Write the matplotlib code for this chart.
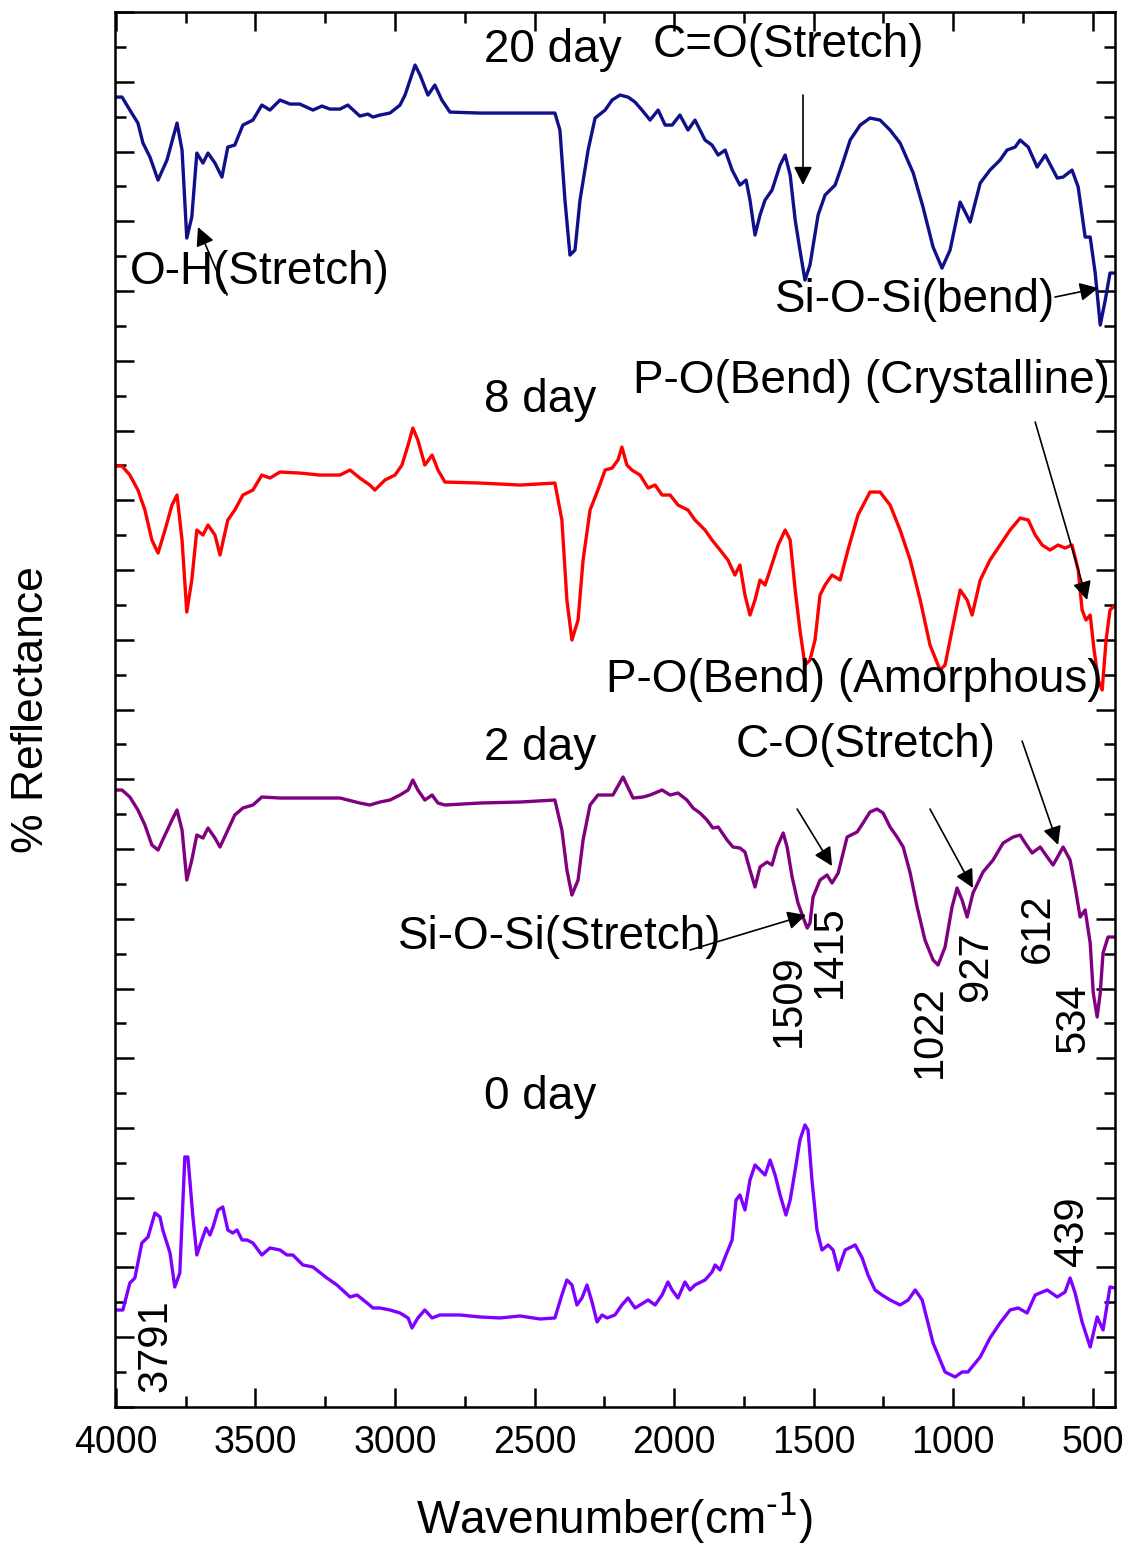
import matplotlib
matplotlib.use('Agg')
import matplotlib.pyplot as plt
from matplotlib.ticker import MultipleLocator

plt.rcParams['font.family'] = ['Liberation Sans', 'DejaVu Sans']

# FTIR spectra, values (stacked, arbitrary units)
wn_20 = [4000, 3978, 3950, 3921, 3903, 3878, 3849, 3817, 3781, 3763, 3746, 3728, 3710, 3688, 3670, 3645,
         3620, 3599, 3574, 3545, 3509, 3477, 3448, 3412, 3376, 3341, 3294, 3262, 3233, 3197, 3169, 3126,
         3097, 3079, 3054, 3018, 2982, 2964, 2946, 2928, 2910, 2882, 2857, 2832, 2803, 2695, 2552, 2427,
         2409, 2391, 2373, 2355, 2337, 2308, 2283, 2247, 2222, 2194, 2165, 2140, 2115, 2086, 2057, 2032,
         2007, 1979, 1950, 1925, 1889, 1864, 1842, 1817, 1792, 1764, 1742, 1728, 1710, 1692, 1674, 1649,
         1620, 1602, 1584, 1566, 1549, 1531, 1513, 1484, 1459, 1423, 1398, 1369, 1333, 1298, 1262, 1226,
         1190, 1143, 1108, 1072, 1040, 1011, 975, 939, 903, 868, 832, 807, 778, 760, 731, 699,
         670, 627, 606, 574, 552, 527, 509, 491, 473, 455, 438, 420]
r_20 = [131.0, 131.0, 129.7, 128.4, 126.4, 125.0, 122.7, 124.7, 128.4, 125.7, 116.9, 119.0, 125.4, 124.4, 125.4, 124.4,
        123.0, 126.0, 126.2, 128.2, 128.7, 130.2, 129.7, 130.7, 130.3, 130.3, 129.7, 130.1, 129.8, 129.8, 130.2, 129.1,
        129.3, 129.0, 129.2, 129.4, 130.2, 131.2, 132.7, 134.2, 133.2, 131.2, 132.2, 130.7, 129.5, 129.4, 129.4, 129.4,
        127.7, 120.7, 115.2, 115.7, 120.7, 125.7, 128.9, 129.7, 130.7, 131.2, 131.0, 130.5, 129.7, 128.7, 129.7, 128.2,
        128.2, 129.2, 127.7, 128.7, 126.7, 126.2, 125.2, 125.7, 123.7, 122.2, 122.7, 120.7, 117.2, 119.2, 120.7, 121.7,
        124.2, 125.2, 123.2, 118.7, 115.7, 112.7, 114.2, 119.2, 121.2, 122.2, 124.2, 126.7, 128.2, 128.9, 128.7, 127.7,
        126.4, 123.4, 120.0, 116.0, 113.9, 115.7, 120.5, 118.5, 122.4, 123.7, 124.7, 125.7, 126.0, 126.7, 126.0, 124.0,
        125.2, 122.9, 123.0, 123.7, 122.0, 117.0, 117.0, 113.4, 108.2, 110.7, 113.4, 113.4]

wn_8 = [4000, 3978, 3950, 3921, 3896, 3871, 3849, 3824, 3799, 3781, 3763, 3746, 3728, 3710, 3688, 3670,
        3645, 3627, 3599, 3574, 3545, 3509, 3477, 3448, 3412, 3341, 3269, 3197, 3161, 3126, 3090, 3072,
        3036, 3000, 2975, 2953, 2936, 2918, 2893, 2867, 2846, 2821, 2695, 2552, 2427, 2402, 2384, 2366,
        2344, 2326, 2301, 2273, 2247, 2222, 2201, 2187, 2169, 2151, 2122, 2093, 2068, 2043, 2014, 1986,
        1950, 1925, 1889, 1864, 1835, 1807, 1782, 1764, 1746, 1728, 1710, 1692, 1674, 1656, 1627, 1602,
        1584, 1566, 1549, 1531, 1513, 1495, 1477, 1459, 1434, 1405, 1377, 1341, 1298, 1262, 1226, 1190,
        1154, 1118, 1083, 1047, 1029, 1004, 975, 950, 932, 903, 868, 832, 796, 760, 731, 706,
        681, 653, 624, 599, 574, 552, 538, 524, 509, 495, 480, 466, 452, 438, 420]
r_8 = [94.1, 94.1, 93.2, 91.7, 89.7, 86.7, 85.4, 87.7, 90.2, 91.2, 86.7, 79.5, 82.7, 87.7, 87.2, 88.2,
       87.2, 85.2, 88.7, 89.7, 91.2, 91.7, 93.2, 92.9, 93.5, 93.4, 93.2, 93.2, 93.7, 92.9, 92.2, 91.7,
       92.7, 93.2, 94.2, 96.2, 97.9, 96.7, 94.2, 95.2, 93.7, 92.5, 92.4, 92.2, 92.4, 88.7, 80.7, 76.7,
       78.7, 84.7, 89.7, 91.7, 93.7, 93.9, 94.7, 96.0, 94.2, 93.7, 93.2, 91.9, 92.2, 91.2, 91.2, 90.2,
       89.7, 88.7, 87.7, 86.7, 85.7, 84.7, 83.2, 84.2, 81.2, 79.2, 80.7, 82.7, 82.2, 83.7, 86.2, 87.7,
       86.7, 81.7, 77.7, 74.2, 74.7, 76.7, 81.2, 82.2, 83.2, 82.7, 85.7, 89.2, 91.5, 91.5, 90.2, 87.7,
       84.7, 80.7, 76.2, 73.7, 74.2, 77.7, 81.7, 80.7, 79.2, 82.7, 84.7, 86.2, 87.7, 88.9, 88.7, 87.2,
       86.2, 85.7, 86.2, 85.9, 86.2, 83.7, 79.7, 78.7, 79.2, 75.7, 72.7, 71.7, 76.7, 79.7, 80.2]

wn_2 = [4000, 3978, 3950, 3921, 3896, 3871, 3849, 3824, 3799, 3781, 3763, 3746, 3728, 3710, 3688, 3670,
        3645, 3627, 3599, 3574, 3545, 3509, 3477, 3412, 3341, 3269, 3197, 3126, 3090, 3054, 3018, 2982,
        2953, 2936, 2918, 2893, 2867, 2846, 2821, 2695, 2552, 2427, 2402, 2384, 2366, 2344, 2326, 2301,
        2273, 2240, 2219, 2183, 2147, 2111, 2086, 2043, 2014, 1986, 1954, 1932, 1907, 1882, 1861, 1842,
        1810, 1789, 1764, 1746, 1728, 1710, 1692, 1667, 1649, 1631, 1609, 1595, 1577, 1556, 1538, 1523,
        1513, 1502, 1477, 1452, 1434, 1412, 1380, 1344, 1323, 1298, 1273, 1251, 1226, 1201, 1179, 1154,
        1129, 1101, 1072, 1054, 1029, 1004, 986, 968, 950, 929, 893, 857, 821, 785, 760, 742,
        717, 688, 663, 642, 606, 581, 563, 545, 527, 509, 498, 484, 473, 463, 445, 420]
r_2 = [61.7, 61.7, 61.0, 59.7, 58.2, 56.2, 55.7, 57.2, 58.7, 59.7, 57.7, 52.7, 54.7, 57.2, 56.9, 57.9,
       56.9, 56.0, 57.7, 59.2, 59.9, 60.2, 61.0, 60.9, 60.9, 60.9, 60.9, 60.4, 60.2, 60.5, 60.7, 61.2,
       61.7, 62.7, 61.7, 60.7, 61.2, 60.4, 60.2, 60.4, 60.5, 60.7, 57.7, 53.7, 51.2, 52.7, 56.7, 60.2,
       61.2, 61.2, 61.2, 63.0, 60.9, 61.0, 61.2, 61.7, 61.2, 61.4, 60.7, 59.9, 59.4, 58.7, 57.9, 58.0,
       56.7, 56.0, 55.9, 55.5, 53.7, 52.0, 54.0, 54.5, 54.2, 56.0, 57.4, 56.0, 53.0, 50.4, 49.0, 47.9,
       48.4, 51.0, 52.7, 53.2, 52.4, 53.4, 57.0, 57.5, 58.4, 59.5, 59.8, 59.4, 58.0, 57.0, 56.0, 53.4,
       50.0, 46.7, 44.7, 44.2, 46.0, 50.0, 51.9, 50.7, 49.0, 51.4, 53.5, 54.7, 56.4, 57.0, 57.2, 56.4,
       55.4, 56.0, 55.0, 54.2, 56.0, 54.7, 52.0, 49.0, 49.7, 46.4, 41.4, 39.0, 41.4, 45.4, 47.0, 47.0]

wn_0 = [4000, 3975, 3950, 3932, 3907, 3885, 3860, 3842, 3832, 3806, 3789, 3771, 3753, 3742, 3724, 3710,
        3692, 3677, 3663, 3652, 3634, 3617, 3599, 3581, 3566, 3548, 3530, 3509, 3477, 3448, 3412, 3387,
        3366, 3330, 3294, 3244, 3208, 3161, 3136, 3100, 3079, 3054, 3018, 2982, 2953, 2939, 2918, 2893,
        2867, 2839, 2767, 2695, 2624, 2552, 2480, 2427, 2402, 2384, 2366, 2348, 2330, 2312, 2294, 2276,
        2258, 2240, 2212, 2187, 2165, 2140, 2122, 2093, 2068, 2043, 2022, 2007, 1986, 1961, 1943, 1925,
        1889, 1864, 1853, 1835, 1814, 1792, 1778, 1764, 1746, 1728, 1710, 1692, 1674, 1656, 1638, 1620,
        1599, 1584, 1566, 1549, 1531, 1520, 1506, 1488, 1470, 1448, 1430, 1412, 1387, 1351, 1326, 1305,
        1280, 1255, 1226, 1190, 1161, 1136, 1111, 1093, 1072, 1029, 993, 968, 947, 903, 868, 832,
        796, 767, 735, 706, 663, 627, 599, 581, 563, 538, 509, 484, 463, 438, 420]
r_0 = [9.7, 9.7, 12.4, 12.9, 16.4, 17.0, 19.4, 19.0, 17.7, 15.4, 12.0, 13.4, 25.0, 25.0, 19.0, 15.2,
       16.7, 17.9, 17.2, 18.0, 19.7, 20.0, 17.7, 17.4, 17.7, 16.7, 16.7, 16.4, 15.2, 15.9, 15.7, 15.2,
       15.2, 14.2, 14.0, 12.9, 12.2, 11.0, 11.2, 10.4, 9.9, 9.9, 9.7, 9.4, 8.9, 7.9, 8.9, 9.7,
       8.9, 9.2, 9.2, 9.0, 8.9, 9.1, 8.8, 8.9, 11.2, 12.7, 12.2, 10.2, 10.9, 12.2, 10.5, 8.5,
       9.2, 8.9, 9.2, 10.2, 10.9, 9.9, 10.2, 10.7, 10.2, 11.2, 12.5, 11.7, 10.9, 12.5, 11.7, 12.2,
       12.7, 13.5, 14.2, 13.7, 15.2, 16.7, 20.7, 21.2, 19.7, 22.7, 24.2, 23.7, 23.2, 24.7, 23.2, 21.2,
       19.2, 20.7, 23.7, 26.7, 28.2, 27.7, 22.7, 17.7, 15.7, 16.2, 15.7, 13.7, 15.7, 16.2, 14.9, 13.2,
       11.7, 11.2, 10.7, 10.2, 10.7, 11.7, 10.7, 8.7, 6.4, 3.5, 3.0, 3.5, 3.5, 5.0, 6.9, 8.4,
       9.7, 9.9, 9.4, 11.2, 11.7, 11.0, 11.5, 12.9, 11.4, 8.5, 6.0, 9.0, 7.7, 12.0, 11.9]

fig = plt.figure(figsize=(11.28, 15.48), dpi=100)
ax = fig.add_axes([0.102, 0.0911, 0.8865, 0.9011])

for wn, r, c in [(wn_20, r_20, '#10108a'), (wn_8, r_8, '#ff0000'),
                 (wn_2, r_2, '#800080'), (wn_0, r_0, '#8000ff')]:
    ax.plot(wn, r, color=c, lw=2.4, solid_joinstyle='round', solid_capstyle='round')

ax.set_xlim(4003, 420)
ax.set_ylim(0, 139.5)
ax.xaxis.set_major_locator(MultipleLocator(500))
ax.xaxis.set_minor_locator(MultipleLocator(250))
ax.yaxis.set_major_locator(MultipleLocator(6.975))
ax.yaxis.set_minor_locator(MultipleLocator(3.4875))
ax.tick_params(which='both', direction='in', top=True, right=True, width=1.8)
ax.tick_params(which='major', length=14)
ax.tick_params(which='minor', length=8)
ax.tick_params(axis='x', labelsize=27, pad=13)
ax.tick_params(axis='y', labelleft=False)
for s in ax.spines.values():
    s.set_linewidth(1.8)

ax.set_xlabel('Wavenumber(cm$^{\\text{-1}}$)', fontsize=33)
ax.xaxis.set_label_coords(0.5, -0.06)
ax.set_ylabel('% Reflectance', fontsize=32)
ax.yaxis.set_label_coords(-0.063, 0.5)

big = 33
for txt, x, y in [('20 day', 2434, 135.7), ('C=O(Stretch)', 1592, 136.2), ('O-H(Stretch)', 3484, 113.5),
                  ('Si-O-Si(bend)', 1136, 110.7), ('8 day', 2480, 100.7),
                  ('P-O(Bend) (Crystalline)', 1294, 102.6), ('P-O(Bend) (Amorphous)', 1355, 72.7),
                  ('2 day', 2480, 65.9), ('C-O(Stretch)', 1312, 66.2), ('Si-O-Si(Stretch)', 2409, 47.0),
                  ('0 day', 2480, 31.0)]:
    ax.text(x, y, txt, fontsize=big, ha='center', va='center')

for txt, x, y in [('1509', 1588, 40.6), ('1415', 1441, 45.5), ('1022', 1083, 37.5), ('927', 918, 44.1),
                  ('612', 696, 47.9), ('534', 570, 38.9), ('439', 574, 17.6), ('3791', 3860, 6.1)]:
    ax.text(x, y, txt, fontsize=30, ha='center', va='center', rotation=90)

arrows = [((1538, 131.2), (1538, 122.2)), ((3602, 111.2), (3706, 118.0)), ((635, 111.0), (480, 111.9)),
          ((706, 98.5), (520, 80.7)), ((753, 66.6), (624, 56.2)), ((1559, 59.8), (1434, 54.1)),
          ((1083, 59.8), (929, 51.9)), ((1943, 45.7), (1527, 49.2))]
for tail, head in arrows:
    ax.annotate('', xy=head, xytext=tail,
                arrowprops=dict(arrowstyle='-|>', color='black', lw=1.2, mutation_scale=28,
                                shrinkA=0, shrinkB=0))

plt.savefig('out.png', dpi=100)
